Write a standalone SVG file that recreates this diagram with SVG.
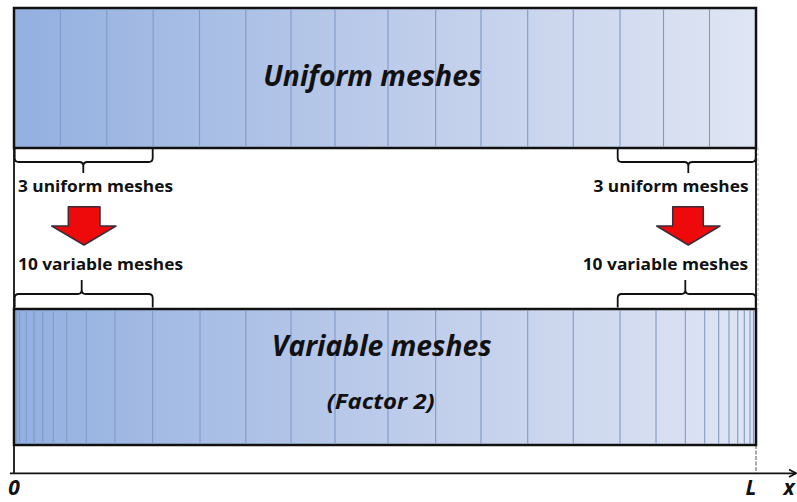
<svg xmlns="http://www.w3.org/2000/svg" width="797" height="502" viewBox="0 0 797 502">
<defs>
<linearGradient id="g" gradientUnits="userSpaceOnUse" x1="14" y1="0" x2="756" y2="0">
<stop offset="0" stop-color="#93b0e0"/>
<stop offset="0.5" stop-color="#bccbea"/>
<stop offset="1" stop-color="#dfe5f3"/>
</linearGradient>
</defs>
<style>
.box{fill:url(#g);stroke:#111;stroke-width:2.5}
.mesh{stroke:#7f9acb;stroke-width:1.1;fill:none}
.br{fill:none;stroke:#111;stroke-width:1.8;stroke-linejoin:round}
.lbl{font-family:"Open Sans","Liberation Sans",sans-serif;font-weight:bold;font-size:15.5px;fill:#111}
.ttl{font-family:"Open Sans","Liberation Sans",sans-serif;font-weight:bold;font-style:italic;fill:#111}
.arr{fill:#ee0a0a;stroke:#3b2b3b;stroke-width:1.5;stroke-linejoin:round}
.ax{stroke:#111;stroke-width:1.8;fill:none}
</style>
<rect width="797" height="502" fill="#fff"/>

<g id="axis">
<line class="ax" x1="14" y1="8" x2="14" y2="474"/>
<line class="ax" x1="10" y1="473.3" x2="796" y2="473.3"/>
<polyline class="ax" points="789,469.5 796,473.3 789,477" stroke-width="1.2"/>
<line x1="756" y1="148" x2="756" y2="309" stroke="#111" stroke-width="1.8"/>
<line x1="758" y1="148" x2="758" y2="309" stroke="#bbb" stroke-width="1" stroke-dasharray="3,2"/>
<line x1="756" y1="445" x2="756" y2="473" stroke="#555" stroke-width="1" stroke-dasharray="4,1.5"/>
<text class="ttl" x="14" y="495" font-size="21" text-anchor="middle">0</text>
<text class="ttl" x="751" y="495" font-size="21" text-anchor="middle">L</text>
<text class="ttl" x="789" y="495" font-size="21" text-anchor="middle">x</text>
</g>

<g id="uniform">
<rect class="box" x="14" y="8" width="742" height="140"/>
<path class="mesh" d="M60.4,9V147M106.8,9V147M153.1,9V147M199.5,9V147M245.8,9V147M291,9V147M335,9V147M388,9V147M435.7,9V147M481,9V147M527.7,9V147M573.3,9V147M620,9V147M663.5,9V147M709.5,9V147"/>
<text class="ttl" x="263.3" y="86" font-size="28" textLength="218" lengthAdjust="spacingAndGlyphs">Uniform meshes</text>
</g>

<g id="variable">
<rect class="box" x="14" y="309" width="742" height="136"/>
<path class="mesh" d="M16.7,310V444M19.5,310V444M26.3,310V444M34,310V444M42.7,310V444M53.3,310V444M66.7,310V444M86.3,310V444M115,310V444M152.7,310V444M200,310V444M245.8,310V444M291,310V444M335,310V444M388,310V444M435.7,310V444M481,310V444M527.7,310V444M573.3,310V444M620,310V444M656,310V444M685.3,310V444M704.7,310V444M718.7,310V444M729,310V444M737.7,310V444M744.3,310V444M750,310V444M753.5,310V444"/>
<text class="ttl" x="271.7" y="356" font-size="28" textLength="220" lengthAdjust="spacingAndGlyphs">Variable meshes</text>
<text class="ttl" x="326.7" y="409" font-size="21" textLength="108" lengthAdjust="spacingAndGlyphs">(Factor 2)</text>
</g>

<g id="left-annotation">
<path class="br" d="M14.7,149V158Q14.7,162 18.7,162H79.3Q83.3,162 83.3,166V173M83.3,166Q83.3,162 87.3,162H148.7Q152.7,162 152.7,158V149"/>
<text class="lbl" x="18" y="192" textLength="155" lengthAdjust="spacingAndGlyphs">3 uniform meshes</text>
<polygon class="arr" points="68.3,206.7 100,206.7 100,226 116,226 84,245 51.7,226 68.3,226"/>
<text class="lbl" x="18" y="270" textLength="165" lengthAdjust="spacingAndGlyphs">10 variable meshes</text>
<path class="br" d="M14.7,307.5V298Q14.7,294 18.7,294H77.7Q81.7,294 81.7,290V280M81.7,290Q81.7,294 85.7,294H148.7Q152.7,294 152.7,298V307.5"/>
</g>

<g id="right-annotation">
<path class="br" d="M617.7,149V158Q617.7,162 621.7,162H684.3Q688.3,162 688.3,166V173M688.3,166Q688.3,162 692.3,162H751.7Q755.7,162 755.7,158V149"/>
<text class="lbl" x="593.5" y="192" textLength="155" lengthAdjust="spacingAndGlyphs">3 uniform meshes</text>
<polygon class="arr" points="672.7,206.7 703.3,206.7 703.3,226 720,226 688.3,245 656.7,226 672.7,226"/>
<text class="lbl" x="582.7" y="270" textLength="165.5" lengthAdjust="spacingAndGlyphs">10 variable meshes</text>
<path class="br" d="M617.7,307.5V298Q617.7,294 621.7,294H681.3Q685.3,294 685.3,290V280M685.3,290Q685.3,294 689.3,294H751.7Q755.7,294 755.7,298V307.5"/>
</g>
</svg>
